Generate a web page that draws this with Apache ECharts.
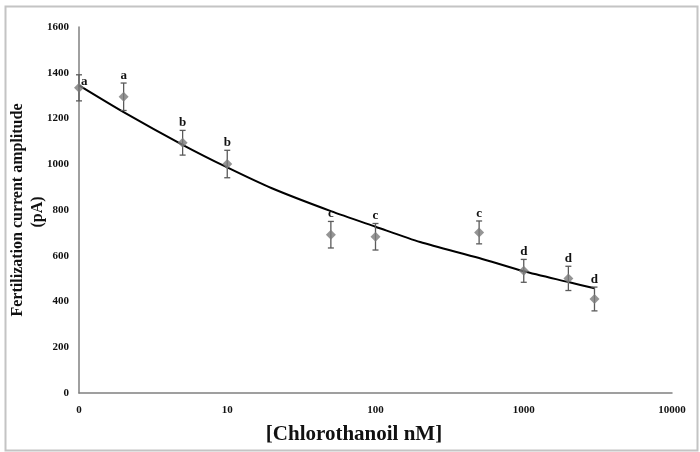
<!DOCTYPE html>
<html>
<head>
<meta charset="utf-8">
<script src="https://cdn.jsdelivr.net/npm/echarts@6/dist/echarts.min.js"></script>
<style>html,body{margin:0;padding:0;background:#fff;}#c{width:700px;height:452px;}</style>
</head>
<body>
<div id="c"></div>
<script>
// Data
var concentrations = [1, 2, 5, 10, 50, 100, 500, 1000, 2000, 3000];
var means = [1334, 1295, 1094, 1001, 692, 683, 702, 534, 501, 411];
var errors = [57, 60, 54, 60, 58, 58, 50, 50, 53, 52];
var letters = ['a', 'a', 'b', 'b', 'c', 'c', 'c', 'd', 'd', 'd'];
var fitX = [1, 2, 5, 10, 20, 50, 100, 200, 500, 1000, 2000, 3000];
var fitY = [1345, 1228, 1085, 986, 895, 795, 727, 660, 590, 532, 485, 458];
var xTicks = [1, 10, 100, 1000, 10000];
var xTickLabels = ['0', '10', '100', '1000', '10000'];

var serif = '"Liberation Serif", "DejaVu Serif", serif';
var chart = echarts.init(document.getElementById('c'));

var pointData = concentrations.map(function (x, i) { return [x, means[i]]; });
var errData = concentrations.map(function (x, i) { return [x, means[i], errors[i], i]; });
var fitData = fitX.map(function (x, i) { return [x, fitY[i]]; });

chart.setOption({
  animation: false,
  backgroundColor: '#fff',
  grid: { left: 79, right: 28, top: 27, bottom: 59, containLabel: false },
  xAxis: {
    type: 'log', logBase: 10, min: 1, max: 10000,
    axisLine: { lineStyle: { color: '#808080', width: 1.5 } },
    axisTick: { show: false },
    splitLine: { show: false },
    minorTick: { show: false },
    axisLabel: {
      margin: 12, color: '#111', fontFamily: serif, fontWeight: 'bold', fontSize: 11,
      formatter: function (v) {
        var idx = xTicks.indexOf(Math.round(v));
        return idx >= 0 ? xTickLabels[idx] : '';
      }
    }
  },
  yAxis: {
    type: 'value', min: 0, max: 1600, interval: 200,
    axisLine: { show: true, lineStyle: { color: '#808080', width: 1.5 } },
    axisTick: { show: false },
    splitLine: { show: false },
    axisLabel: { margin: 10, color: '#111', fontFamily: serif, fontWeight: 'bold', fontSize: 11,
      formatter: function (v) { return String(v); } }
  },
  graphic: [
    { type: 'rect', left: 3, top: 4, shape: { x: 0, y: 0, width: 692, height: 444 },
      style: { fill: 'none', stroke: '#c4c4c4', lineWidth: 2 }, silent: true, z: -1 },
    { type: 'text', x: 18, y: 210, rotation: Math.PI / 2,
      style: { text: 'Fertilization current amplitude', fontFamily: serif, fontWeight: 'bold', fontSize: 16,
        fill: '#111', textAlign: 'center', textVerticalAlign: 'middle' } },
    { type: 'text', x: 38, y: 212, rotation: Math.PI / 2,
      style: { text: '(pA)', fontFamily: serif, fontWeight: 'bold', fontSize: 16,
        fill: '#111', textAlign: 'center', textVerticalAlign: 'middle' } },
    { type: 'text', x: 354, y: 435,
      style: { text: '[Chlorothanoil nM]', fontFamily: serif, fontWeight: 'bold', fontSize: 21,
        fill: '#111', textAlign: 'center', textVerticalAlign: 'middle' } }
  ],
  series: [
    {
      type: 'line', data: fitData, smooth: 0.25, showSymbol: false, symbol: 'none',
      lineStyle: { color: '#000', width: 2 }, z: 3
    },
    {
      type: 'custom', data: errData, z: 4,
      renderItem: function (params, api) {
        var x = api.value(0), m = api.value(1), e = api.value(2), i = api.value(3);
        var top = api.coord([x, m + e]);
        var bot = api.coord([x, m - e]);
        var cw = 3;
        var st = { stroke: '#5a5a5a', lineWidth: 1.3 };
        var children = [
          { type: 'line', shape: { x1: top[0], y1: top[1], x2: bot[0], y2: bot[1] }, style: st },
          { type: 'line', shape: { x1: top[0] - cw, y1: top[1], x2: top[0] + cw, y2: top[1] }, style: st },
          { type: 'line', shape: { x1: bot[0] - cw, y1: bot[1], x2: bot[0] + cw, y2: bot[1] }, style: st }
        ];
        var lbl;
        if (i === 0) {
          lbl = { type: 'text', x: top[0] + 2, y: top[1] + 7,
            style: { text: letters[i], fontFamily: serif, fontWeight: 'bold', fontSize: 13, fill: '#111',
              textAlign: 'left', textVerticalAlign: 'middle' } };
        } else {
          lbl = { type: 'text', x: top[0], y: top[1] - 1,
            style: { text: letters[i], fontFamily: serif, fontWeight: 'bold', fontSize: 13, fill: '#111',
              textAlign: 'center', textVerticalAlign: 'bottom' } };
        }
        children.push(lbl);
        return { type: 'group', children: children };
      }
    },
    {
      type: 'scatter', data: pointData, symbol: 'diamond', symbolSize: 10,
      itemStyle: { color: '#7b7b7b' }, z: 5
    }
  ]
});
</script>
</body>
</html>
